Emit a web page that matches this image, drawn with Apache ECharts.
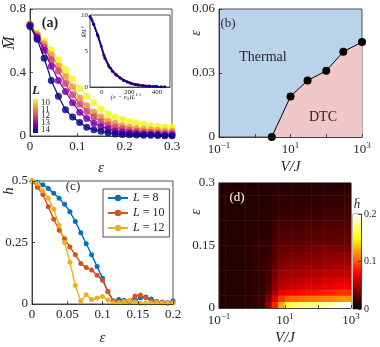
<!DOCTYPE html>
<html>
<head>
<meta charset="utf-8">
<script src="https://cdn.jsdelivr.net/npm/echarts@6/dist/echarts.min.js"></script>
<style>
  html, body { margin: 0; padding: 0; background: #fff; }
  #chart { width: 380px; height: 347px; }
</style>
</head>
<body>
<div id="chart"></div>
<script>
// ---------- (a) magnetisation vs epsilon ----------
var epsA = [0, 0.015, 0.03, 0.045, 0.06, 0.075, 0.09, 0.105, 0.12, 0.135, 0.15,
            0.165, 0.18, 0.195, 0.21, 0.225, 0.24, 0.255, 0.27, 0.285, 0.3];
var mL10 = [0.71, 0.65, 0.60, 0.54, 0.48, 0.42, 0.36, 0.30, 0.25, 0.21, 0.17, 0.14, 0.12, 0.105, 0.09, 0.08, 0.075, 0.065, 0.06, 0.057, 0.055];
var mL11 = [0.70, 0.64, 0.58, 0.51, 0.44, 0.375, 0.31, 0.24, 0.19, 0.15, 0.12, 0.095, 0.08, 0.065, 0.055, 0.048, 0.042, 0.038, 0.035, 0.032, 0.03];
var mL12 = [0.70, 0.63, 0.56, 0.48, 0.41, 0.33, 0.26, 0.20, 0.155, 0.12, 0.09, 0.07, 0.055, 0.045, 0.035, 0.03, 0.025, 0.022, 0.02, 0.018, 0.017];
var mL13 = [0.70, 0.62, 0.54, 0.44, 0.35, 0.28, 0.21, 0.15, 0.11, 0.08, 0.06, 0.045, 0.032, 0.025, 0.02, 0.016, 0.013, 0.011, 0.009, 0.007, 0.006];
var mL14 = [0.69, 0.61, 0.49, 0.35, 0.25, 0.165, 0.12, 0.085, 0.055, 0.04, 0.03, 0.02, 0.013, 0.01, 0.008, 0.006, 0.005, 0.004, 0.003, 0.002, 0.002];
var sizesL = ['10', '11', '12', '13', '14'];

// inset: scaling collapse
var inX10 = [-50, -19, 13, 44, 75, 106, 137, 168, 199, 230, 261];
var inY10 = [8.4, 6.7, 4.6, 3.1, 2.25, 1.7, 1.25, 0.9, 0.62, 0.45, 0.35];
var inX11 = [-58, -22, 15, 51, 88, 125, 161, 198, 235, 271, 308];
var inY11 = [8.8, 6.9, 4.5, 2.9, 2.0, 1.4, 0.95, 0.62, 0.42, 0.3, 0.22];
var inX12 = [-66, -25, 17, 58, 99, 141, 182, 223, 264, 306, 347];
var inY12 = [9.2, 7.0, 4.4, 2.7, 1.75, 1.15, 0.75, 0.45, 0.3, 0.2, 0.15];
var inX13 = [-75, -28, 18, 65, 111, 158, 204, 251, 297, 344, 390];
var inY13 = [9.5, 7.2, 4.3, 2.6, 1.6, 0.95, 0.58, 0.35, 0.2, 0.13, 0.09];
var inX14 = [-84, -57, -30, -3, 24, 51, 78, 105, 132, 159, 186, 213, 240, 267, 294, 321, 348, 375, 402, 429, 456];
var inY14 = [9.8, 8.7, 7.3, 5.7, 4.0, 2.9, 2.2, 1.7, 1.3, 0.95, 0.7, 0.5, 0.35, 0.25, 0.18, 0.13, 0.1, 0.08, 0.06, 0.05, 0.04];

// ---------- (b) phase boundary ----------
var vB = [3, 10, 30, 100, 300, 1000];
var epsB = [0, 0.019, 0.0265, 0.031, 0.040, 0.0445];

// ---------- (c) h vs epsilon ----------
var epsC = [0, 0.0077, 0.0154, 0.0231, 0.0308, 0.0385, 0.0462, 0.0538, 0.0615, 0.0692, 0.0769, 0.0846, 0.0923, 0.1,
            0.1077, 0.1154, 0.1231, 0.1308, 0.1385, 0.1462, 0.1538, 0.1615, 0.1692, 0.1769, 0.1846, 0.1923, 0.2];
var hL8 = [0.5, 0.495, 0.485, 0.47, 0.45, 0.43, 0.405, 0.375, 0.335, 0.29, 0.245, 0.2, 0.152, 0.105,
           0.05, 0.012, 0.018, 0.015, 0.012, 0.015, 0.025, 0.028, 0.02, 0.01, 0.008, 0.005, 0.012];
var hL10 = [0.5, 0.475, 0.445, 0.395, 0.345, 0.3, 0.265, 0.232, 0.2, 0.165, 0.148, 0.138, 0.117, 0.097,
            0.05, 0.012, 0.008, 0.01, 0.012, 0.033, 0.036, 0.025, 0.012, 0.008, 0.006, 0.004, 0.005];
var hL12 = [0.5, 0.49, 0.46, 0.43, 0.385, 0.32, 0.25, 0.17, 0.075, 0.012, 0.038, 0.018, 0.024, 0.03,
            0.016, 0.005, 0.005, 0.01, 0.013, 0.008, 0.003, 0.003, 0.004, 0.006, 0.004, 0.003, 0.004];

// ---------- (d) heat map of h-bar ----------
var vCells = ['0.13', '0.2', '0.32', '0.5', '0.79', '1.3', '2', '3.2', '5', '7.9',
              '13', '20', '32', '50', '79', '130', '200', '320', '500', '790'];
var epsCells = ['0.0075', '0.0225', '0.0375', '0.0525', '0.0675', '0.0825', '0.0975', '0.1125', '0.1275', '0.1425',
                '0.1575', '0.1725', '0.1875', '0.2025', '0.2175', '0.2325', '0.2475', '0.2625', '0.2775', '0.2925'];
// rows from eps = 0 upwards, columns from V = 0.1 to 1000
var hBar = [
  [.010,.010,.011,.011,.012,.014,.018,.045,.085,.125,.160,.168,.172,.175,.176,.178,.182,.188,.195,.200],
  [.010,.010,.011,.011,.012,.014,.017,.035,.065,.090,.102,.105,.108,.110,.110,.112,.114,.116,.118,.118],
  [.010,.010,.011,.011,.012,.014,.015,.028,.050,.068,.072,.074,.076,.080,.080,.082,.084,.086,.088,.088],
  [.010,.010,.011,.011,.012,.014,.015,.024,.042,.056,.059,.061,.063,.066,.066,.067,.069,.071,.073,.073],
  [.010,.010,.011,.011,.012,.014,.015,.022,.038,.050,.053,.054,.056,.059,.059,.060,.062,.064,.065,.065],
  [.010,.010,.011,.011,.012,.014,.015,.020,.034,.045,.047,.048,.049,.052,.052,.053,.055,.056,.057,.057],
  [.010,.010,.011,.011,.012,.014,.015,.019,.031,.040,.042,.043,.045,.047,.047,.048,.049,.051,.052,.052],
  [.010,.010,.011,.011,.012,.014,.015,.018,.028,.036,.038,.039,.040,.042,.042,.043,.044,.045,.046,.046],
  [.010,.010,.011,.011,.012,.014,.015,.017,.026,.033,.034,.035,.036,.038,.038,.039,.040,.041,.042,.042],
  [.010,.010,.011,.011,.012,.014,.015,.016,.024,.030,.030,.030,.031,.033,.033,.034,.035,.036,.036,.036],
  [.010,.010,.011,.011,.012,.014,.015,.015,.022,.026,.025,.026,.027,.028,.028,.029,.029,.030,.031,.031],
  [.010,.010,.011,.011,.012,.012,.012,.013,.020,.024,.023,.024,.025,.026,.026,.027,.027,.028,.029,.029],
  [.010,.010,.011,.011,.011,.012,.012,.013,.018,.022,.022,.022,.023,.024,.024,.024,.025,.026,.026,.026],
  [.010,.010,.011,.011,.011,.012,.012,.012,.017,.020,.019,.019,.020,.021,.021,.021,.022,.023,.023,.023],
  [.010,.010,.011,.011,.011,.012,.012,.012,.016,.018,.017,.017,.018,.019,.019,.019,.020,.021,.021,.021],
  [.010,.010,.010,.011,.011,.011,.012,.012,.015,.016,.015,.016,.016,.017,.017,.017,.018,.018,.019,.019],
  [.010,.010,.010,.011,.011,.011,.011,.012,.014,.015,.014,.015,.015,.016,.016,.016,.016,.017,.017,.017],
  [.010,.010,.010,.010,.011,.011,.011,.011,.013,.014,.013,.013,.014,.014,.014,.014,.015,.015,.015,.015],
  [.010,.010,.010,.010,.010,.011,.011,.011,.012,.013,.012,.012,.013,.013,.013,.013,.013,.014,.014,.014],
  [.010,.010,.010,.010,.010,.010,.010,.011,.012,.012,.012,.012,.012,.012,.012,.012,.012,.012,.012,.012]
];

var FONT = '"Liberation Serif", "DejaVu Serif", serif';
var INK = '#262626';
var plasma = ['#f0f921', '#f89540', '#cc4778', '#7e03a8', '#0d0887'];
var hot = ['#000000', '#550000', '#aa0000', '#ff0000', '#ff5500', '#ffaa00', '#ffff00', '#ffff80', '#ffffff'];
var matlab = ['#0072bd', '#d95319', '#edb120'];

function zip(xs, ys) { return xs.map(function (x, i) { return [x, ys[i]]; }); }

function axis(o) {
  var size = o.fontSize || 13;
  var a = {
    gridIndex: o.grid, type: o.type || 'value', min: o.min, max: o.max,
    axisLine: { show: true, lineStyle: { color: INK, width: 0.8 } },
    axisTick: { show: true, inside: true, length: 3, lineStyle: { color: INK, width: 0.8 } },
    axisLabel: { color: INK, fontFamily: FONT, fontSize: size, margin: o.margin || 4 },
    splitLine: { show: false },
    z: 5
  };
  if (o.interval) a.interval = o.interval;
  if (o.splitNumber) a.splitNumber = o.splitNumber;
  if (o.position) a.position = o.position;
  if (o.formatter) { a.axisLabel.formatter = o.formatter; a.axisLabel.rich = o.rich; }
  if (o.hideEnds) { a.axisLabel.showMinLabel = false; a.axisLabel.showMaxLabel = false; }
  if (o.name) {
    a.name = o.name; a.nameLocation = 'middle'; a.nameGap = o.nameGap;
    a.nameTextStyle = { color: INK, fontFamily: FONT, fontSize: 15, fontStyle: 'italic' };
  }
  return a;
}
function hidden(grid, type, data, min, max) {
  return { gridIndex: grid, type: type, data: data, min: min, max: max, show: false };
}

var supRich = { s: { fontSize: 9, fontFamily: FONT, color: INK, padding: [0, 0, 8, 0] } };
function logLabel(v) {
  var e = Math.round(Math.log10(v));
  if (e % 2 === 0) return '';
  return '10{s|' + (e < 0 ? '\u2212' + (-e) : e) + '}';
}

function text(x, y, str, opt) {
  opt = opt || {};
  return {
    type: 'text', x: x, y: y, rotation: opt.rot || 0, z: 100,
    style: {
      text: str, fill: opt.color || INK, textAlign: 'center', textVerticalAlign: 'middle',
      font: (opt.style || '') + ' ' + (opt.weight || '') + ' ' + (opt.size || 14) + 'px ' + FONT,
      rich: opt.rich
    }
  };
}

var seriesA = [mL10, mL11, mL12, mL13, mL14].map(function (vals, i) {
  return {
    type: 'line', name: 'a' + sizesL[i], xAxisIndex: 0, yAxisIndex: 0, data: zip(epsA, vals),
    symbol: 'circle', symbolSize: 7, lineStyle: { width: 1.2, color: plasma[i] },
    itemStyle: { color: plasma[i], opacity: 0.85 }, z: 2 + i
  };
});
var insetX = [inX10, inX11, inX12, inX13, inX14];
var insetY = [inY10, inY11, inY12, inY13, inY14];
var seriesInset = insetX.map(function (xs, i) {
  return {
    type: 'line', name: 'in' + sizesL[i], xAxisIndex: 1, yAxisIndex: 1, data: zip(xs, insetY[i]),
    symbol: 'circle', symbolSize: 3, lineStyle: { width: 1.5, color: plasma[i] },
    itemStyle: { color: plasma[i] }, z: 12 + i
  };
});
var seriesC = [hL8, hL10, hL12].map(function (vals, i) {
  return {
    type: 'line', name: ['8', '10', '12'][i], xAxisIndex: 4, yAxisIndex: 5, data: zip(epsC, vals),
    symbol: 'circle', symbolSize: 5, lineStyle: { width: 1.4, color: matlab[i] },
    itemStyle: { color: matlab[i] }
  };
});
var heatData = [];
hBar.forEach(function (row, r) { row.forEach(function (v, c) { heatData.push([c, r, v]); }); });

var heatSeries = { type: 'heatmap', id: 'heat', xAxisIndex: 6, yAxisIndex: 7, data: heatData, z: 1 };

var allSeries = seriesA.concat(seriesInset).concat([
  {
    type: 'bar', xAxisIndex: 2, yAxisIndex: 2, data: [1], barWidth: '100%', silent: true,
    itemStyle: {
      color: new echarts.graphic.LinearGradient(0, 0, 0, 1, plasma.map(function (c, i) {
        return { offset: i / (plasma.length - 1), color: c };
      }))
    }
  },
  {
    type: 'line', name: 'boundary', xAxisIndex: 3, yAxisIndex: 4, data: zip(vB, epsB),
    symbol: 'circle', symbolSize: 8, lineStyle: { color: '#000', width: 1 },
    itemStyle: { color: '#000' }, areaStyle: { color: '#f0c8c9', opacity: 1, origin: 'start' }
  },
  heatSeries
]).concat(seriesC).concat([
  {
    type: 'bar', xAxisIndex: 7, yAxisIndex: 8, data: [0.2], barWidth: '100%', silent: true,
    itemStyle: {
      color: new echarts.graphic.LinearGradient(0, 0, 0, 1, hot.slice().reverse().map(function (c, i) {
        return { offset: i / (hot.length - 1), color: c };
      }))
    }
  }
]);

var option = {
  animation: false,
  backgroundColor: '#fff',
  grid: [
    { left: 30, top: 9, width: 142, height: 127, show: true, borderColor: INK, borderWidth: 0.8 },
    { left: 90, top: 15, width: 80, height: 72, show: true, borderColor: INK, borderWidth: 0.8, backgroundColor: '#fff', z: 10 },
    { left: 33, top: 99, width: 5, height: 34 },
    { left: 219, top: 9, width: 143, height: 128, show: true, borderColor: INK, borderWidth: 0.8, backgroundColor: '#b9d4ea' },
    { left: 32, top: 181, width: 141, height: 127, show: true, borderColor: INK, borderWidth: 0.8 },
    { left: 219, top: 183, width: 132, height: 126, show: true, borderColor: INK, borderWidth: 0.8 },
    { left: 353, top: 214, width: 8, height: 95, show: true, borderColor: INK, borderWidth: 0.6 }
  ],
  xAxis: [
    axis({ grid: 0, min: 0, max: 0.3, interval: 0.1, name: '\u03b5', nameGap: 25 }),
    axis({ grid: 1, min: -84, max: 494, splitNumber: 3, hideEnds: true, fontSize: 7, margin: 2 }),
    hidden(2, 'category', ['L']),
    axis({ grid: 3, type: 'log', min: 0.1, max: 1000, formatter: logLabel, rich: supRich, name: 'V/J', nameGap: 23 }),
    axis({ grid: 4, min: 0, max: 0.2, interval: 0.05, name: '\u03b5', nameGap: 27 }),
    axis({ grid: 5, type: 'log', min: 0.1, max: 1000, formatter: logLabel, rich: supRich, name: 'V/J', nameGap: 23 }),
    hidden(5, 'category', vCells),
    hidden(6, 'category', ['h'])
  ],
  yAxis: [
    axis({ grid: 0, min: 0, max: 0.8, interval: 0.4 }),
    axis({ grid: 1, min: 0, max: 10, interval: 5, fontSize: 7, margin: 2 }),
    hidden(2, 'value', null, 0, 1),
    {
      gridIndex: 2, type: 'category', data: sizesL, inverse: true, position: 'right',
      axisLine: { show: false }, axisTick: { show: false }, splitLine: { show: false },
      axisLabel: { color: INK, fontFamily: FONT, fontSize: 9, margin: 3, interval: 0 }
    },
    axis({ grid: 3, min: 0, max: 0.06, interval: 0.03 }),
    axis({ grid: 4, min: 0, max: 0.5, interval: 0.25 }),
    axis({ grid: 5, min: 0, max: 0.3, interval: 0.15 }),
    hidden(5, 'category', epsCells),
    axis({ grid: 6, min: 0, max: 0.2, interval: 0.1, position: 'right', fontSize: 10, margin: 3 })
  ],
  visualMap: {
    show: false, type: 'continuous', seriesIndex: allSeries.indexOf(heatSeries), min: 0, max: 0.2, dimension: 2,
    inRange: { color: hot }
  },
  legend: {
    data: ['8', '10', '12'], left: 103, top: 189, orient: 'vertical',
    padding: [3, 5, 3, 4], itemGap: 3, itemWidth: 20, itemHeight: 8,
    borderColor: INK, borderWidth: 0.8, backgroundColor: '#fff',
    formatter: function (n) { return '{i|L} = ' + n; },
    textStyle: {
      fontFamily: FONT, fontSize: 12, color: INK,
      rich: { i: { fontFamily: FONT, fontSize: 12, fontStyle: 'italic', color: INK } }
    }
  },
  series: allSeries,
  graphic: [
    text(50, 23, '(a)', { weight: 'bold', size: 14 }),
    text(10, 43, 'M\u0304', { rot: Math.PI / 2, style: 'italic', size: 16 }),
    text(36, 91, 'L', { style: 'italic', weight: 'bold', size: 13 }),
    text(84, 32, 'M\u0304L{s|\u03b3}', { rot: Math.PI / 2, style: 'italic', size: 7,
      rich: { s: { fontSize: 5, fontStyle: 'italic', fontFamily: FONT, padding: [0, 0, 4, 0] } } }),
    text(126, 97, '(\u03b5 \u2212 \u03b5{b|0})L{s|1/\u03bd}', { style: 'italic', size: 7,
      rich: { s: { fontSize: 5, fontStyle: 'italic', fontFamily: FONT, padding: [0, 0, 4, 0] },
              b: { fontSize: 5, fontFamily: FONT, padding: [3, 0, 0, 0] } } }),
    text(228, 24, '(b)', { size: 13 }),
    text(196, 33, '\u03b5', { rot: Math.PI / 2, style: 'italic', size: 14 }),
    text(263, 57, 'Thermal', { size: 14 }),
    text(323, 117, 'DTC', { size: 14 }),
    text(73, 187, '(c)', { size: 13 }),
    text(9, 191, 'h', { rot: Math.PI / 2, style: 'italic', size: 15 }),
    text(237, 198, '(d)', { size: 13, color: '#fff' }),
    text(196, 212, '\u03b5', { rot: Math.PI / 2, style: 'italic', size: 14 }),
    text(357, 205, 'h\u0304', { style: 'italic', size: 13 })
  ]
};

var chart = echarts.init(document.getElementById('chart'));
chart.setOption(option);
</script>
</body>
</html>
